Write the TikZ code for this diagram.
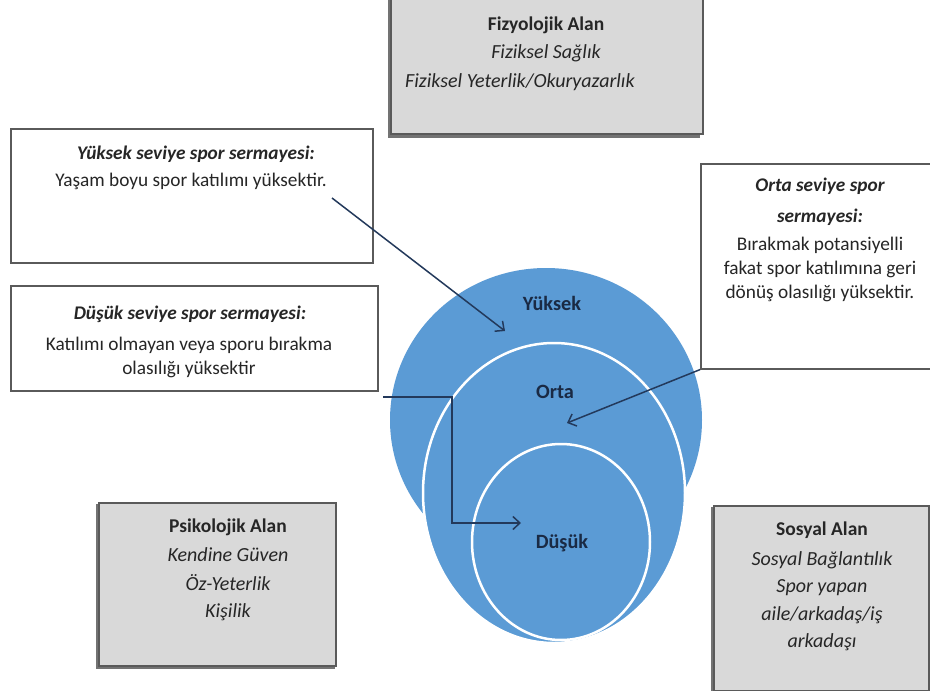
\documentclass[tikz,border=0pt]{standalone}
\usepackage{fontspec}
\setmainfont{Carlito}
\usetikzlibrary{arrows.meta}
\definecolor{blueC}{HTML}{5B9BD5}
\definecolor{grayF}{HTML}{D9D9D9}
\definecolor{borderC}{HTML}{5A5A5A}
\definecolor{txtC}{HTML}{262626}
\definecolor{navyC}{HTML}{1A2A44}
\definecolor{arrC}{HTML}{23395B}
\tikzset{
  wbox/.style={draw=borderC, line width=1.6pt, fill=white, rectangle, inner sep=0pt, anchor=north west},
  gbox/.style={draw=borderC, line width=1.8pt, fill=grayF, rectangle, inner sep=0pt, anchor=north west},
  shadowbox/.style={fill=black!55, rectangle, inner sep=0pt, anchor=north west},
  txt/.style={text=txtC, font=\fontsize{19.3}{22}\selectfont, inner sep=0pt},
  hdr/.style={text=txtC, font=\fontsize{19.3}{22}\selectfont\bfseries\itshape, inner sep=0pt},
  ghdr/.style={text=txtC, font=\fontsize{19.5}{22}\selectfont\bfseries, inner sep=0pt},
  gtxt/.style={text=txtC, font=\fontsize{20}{22}\selectfont\itshape, inner sep=0pt},
  clab/.style={text=navyC, font=\fontsize{20.3}{22}\selectfont\bfseries, inner sep=0pt},
  arr/.style={draw=arrC, line width=1.5pt, -{Straight Barb[length=7pt,width=13pt,line width=1.5pt]}},
}
\begin{document}
\begin{tikzpicture}[x=1pt,y=-1pt]
\useasboundingbox (0,0) rectangle (930,691);
\clip (0,0) rectangle (930,691);
\fill[white] (0,0) rectangle (930,691);

% circles
\fill[blueC] (546,420) ellipse [x radius=156, y radius=152];
\filldraw[fill=blueC, draw=white, line width=2.5pt] (554,493) ellipse [x radius=131, y radius=150];
\filldraw[fill=blueC, draw=white, line width=2.5pt] (561,542) ellipse [x radius=89, y radius=98];
\node[clab] (lyuk) at (552,303) {Yüksek};
\node[clab] (lort) at (555,392) {Orta};
\node[clab] (ldus) at (562,543) {Düşük};

% Fizyolojik box
\node[shadowbox, minimum width=312pt, minimum height=148pt] (fzs) at (388,-10) {};
\node[gbox, minimum width=312pt, minimum height=145pt] (fz) at (390,-12) {};
\node[ghdr] (fz1) at (546,25) {Fizyolojik Alan};
\node[gtxt] (fz2) at (546,53) {Fiziksel Sağlık};
\node[gtxt, anchor=west] (fz3) at (405,82) {Fiziksel Yeterlik/Okuryazarlık};

% Yuksek box
\node[wbox, minimum width=362pt, minimum height=134pt] (yb) at (10,128) {};
\node[hdr] (yb1) at (196,154) {Yüksek seviye spor sermayesi:};
\node[txt] (yb2) at (191,181) {Yaşam boyu spor katılımı yüksektir.};

% Dusuk box
\node[wbox, minimum width=367pt, minimum height=105pt] (db) at (10,285) {};
\node[hdr] (db1) at (190,314) {Düşük seviye spor sermayesi:};
\node[txt] (db2) at (189,345) {Katılımı olmayan veya sporu bırakma};
\node[txt] (db3) at (189,369) {olasılığı yüksektir};

% Orta box
\node[wbox, minimum width=245pt, minimum height=205pt] (ob) at (700,163) {};
\node[hdr] (ob1) at (820,186) {Orta seviye spor};
\node[hdr] (ob2) at (820,217) {sermayesi:};
\node[txt] (ob3) at (820,245) {Bırakmak potansiyelli};
\node[txt] (ob4) at (820,269) {fakat spor katılımına geri};
\node[txt] (ob5) at (820,293) {dönüş olasılığı yüksektir.};

% Psikolojik box
\node[shadowbox, minimum width=239pt, minimum height=165pt] (psS) at (96,504) {};
\node[gbox, minimum width=237pt, minimum height=163pt] (ps) at (98,502) {};
\node[ghdr] (ps1) at (228,527) {Psikolojik Alan};
\node[gtxt] (ps2) at (228,555) {Kendine Güven};
\node[gtxt] (ps3) at (228,583) {Öz-Yeterlik};
\node[gtxt] (ps4) at (228,612) {Kişilik};

% Sosyal box
\node[shadowbox, minimum width=217pt, minimum height=187pt] (soS) at (711,507) {};
\node[gbox, minimum width=215pt, minimum height=185pt] (so) at (713,505) {};
\node[ghdr] (so1) at (822,530) {Sosyal Alan};
\node[gtxt] (so2) at (822,560) {Sosyal Bağlantılık};
\node[gtxt] (so3) at (822,588) {Spor yapan};
\node[gtxt] (so4) at (822,615) {aile/arkadaş/iş};
\node[gtxt] (so5) at (822,642) {arkadaşı};

% arrows
\coordinate (a1s) at (332,198);
\coordinate (a1e) at (505,331);
\draw[arr] (a1s) -- (a1e);
\coordinate (a2s) at (ob.south west);
\coordinate (a2e) at (567,423);
\draw[arr] (a2s) -- (a2e);
\coordinate (a3s) at (383,397);
\coordinate (a3m) at (452,397);
\coordinate (a3n) at (452,523);
\coordinate (a3e) at (521,523);
\draw[arr] (a3s) -- (a3m) -- (a3n) -- (a3e);
\end{tikzpicture}
\end{document}
